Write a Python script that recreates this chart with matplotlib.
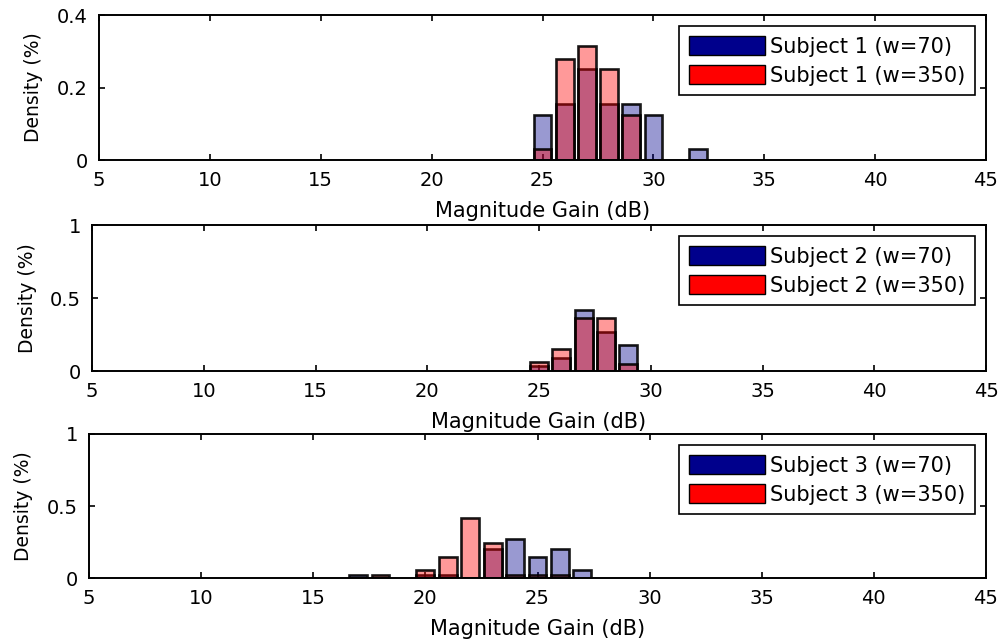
import numpy as np
import matplotlib
matplotlib.use('Agg')
import matplotlib.pyplot as plt
from matplotlib.patches import Patch
from matplotlib.ticker import FormatStrFormatter

# histogram bins (dB) and densities
bins_s1 = [25, 26, 27, 28, 29, 30, 31, 32]
s1_w70 = [0.125, 0.155, 0.25, 0.155, 0.155, 0.125, 0.0, 0.03]
s1_w350 = [0.03, 0.28, 0.315, 0.25, 0.125, 0.0, 0.0, 0.0]

bins_s2 = [25, 26, 27, 28, 29]
s2_w70 = [0.035, 0.09, 0.42, 0.27, 0.18]
s2_w350 = [0.06, 0.15, 0.36, 0.36, 0.05]

bins_s3 = [17, 18, 19, 20, 21, 22, 23, 24, 25, 26, 27]
s3_w70 = [0.02, 0.0, 0.0, 0.02, 0.02, 0.0, 0.20, 0.27, 0.145, 0.20, 0.055]
s3_w350 = [0.0, 0.02, 0.0, 0.055, 0.145, 0.42, 0.24, 0.02, 0.02, 0.02, 0.0]

xticks = [5, 10, 15, 20, 25, 30, 35, 40, 45]

navy = (0.0, 0.0, 0.55)
red = (1.0, 0.0, 0.0)

W, H = 1000, 639
# axes boxes in pixels: left, right, top, bottom
boxes = [(99, 986, 15, 160), (92, 986, 225, 371), (89, 986, 434, 578)]
ylabel_x = [43, 37, 33]


def draw_panel(ax, bins, w70, w350, subject, ymax, yticks, box, ylx):
    bins = np.array(bins)
    w70 = np.array(w70)
    w350 = np.array(w350)
    m = w70 > 0
    ax.bar(bins[m], w70[m], width=0.8, color=navy, alpha=0.4, zorder=2)
    ax.bar(bins[m], w70[m], width=0.8, facecolor='none', edgecolor=(0, 0, 0, 0.9), linewidth=1.9, zorder=2)
    m = w350 > 0
    ax.bar(bins[m], w350[m], width=0.8, color=red, alpha=0.4, zorder=3)
    ax.bar(bins[m], w350[m], width=0.8, facecolor='none', edgecolor=(0, 0, 0, 0.9), linewidth=1.9, zorder=3)

    ax.set_xlim(5, 45)
    ax.set_ylim(0, ymax)
    ax.set_xticks(xticks)
    ax.set_yticks(yticks)
    ax.yaxis.set_major_formatter(FormatStrFormatter('%g'))
    ax.tick_params(direction='in', top=True, right=True, length=4, width=1.2,
                   labelsize=14, pad=8)
    for s in ax.spines.values():
        s.set_linewidth(1.4)
        s.set_zorder(5)

    l, r, t, b = box
    ax.set_xlabel('Magnitude Gain (dB)', fontsize=15)
    ax.xaxis.set_label_coords(0.5, -41.0 / (b - t))
    ax.set_ylabel('Density (%)', fontsize=13.5)
    ax.yaxis.set_label_coords((ylx - l) / float(r - l), 0.5)

    handles = [Patch(facecolor=navy, edgecolor='black', linewidth=1),
               Patch(facecolor=red, edgecolor='black', linewidth=1)]
    labels = ['Subject {} (w=70)'.format(subject), 'Subject {} (w=350)'.format(subject)]
    leg = ax.legend(handles, labels, loc='upper right', fontsize=15, fancybox=False,
                    framealpha=1, edgecolor='black', handlelength=3.65, handleheight=1.05,
                    handletextpad=0.25, labelspacing=0.4, borderpad=0.45, borderaxespad=0.55)
    leg.get_frame().set_linewidth(1.2)
    leg.set_zorder(6)


fig = plt.figure(figsize=(W / 100.0, H / 100.0), dpi=100)
data = [(bins_s1, s1_w70, s1_w350, 1, 0.4, [0, 0.2, 0.4]),
        (bins_s2, s2_w70, s2_w350, 2, 1, [0, 0.5, 1]),
        (bins_s3, s3_w70, s3_w350, 3, 1, [0, 0.5, 1])]
for i, d in enumerate(data):
    l, r, t, b = boxes[i]
    ax = fig.add_axes([l / float(W), 1 - b / float(H), (r - l) / float(W), (b - t) / float(H)])
    draw_panel(ax, d[0], d[1], d[2], d[3], d[4], d[5], boxes[i], ylabel_x[i])

plt.savefig('out.png', dpi=100)
